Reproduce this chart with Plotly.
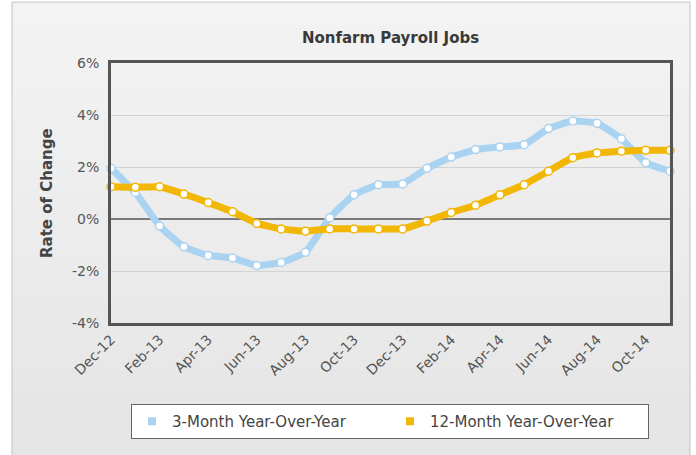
import plotly.graph_objects as go

months = ["Dec-12", "Jan-13", "Feb-13", "Mar-13", "Apr-13", "May-13", "Jun-13", "Jul-13",
          "Aug-13", "Sep-13", "Oct-13", "Nov-13", "Dec-13", "Jan-14", "Feb-14", "Mar-14",
          "Apr-14", "May-14", "Jun-14", "Jul-14", "Aug-14", "Sep-14", "Oct-14", "Nov-14"]
three_month = [1.95, 1.02, -0.27, -1.07, -1.40, -1.50, -1.79, -1.67, -1.28, 0.05, 0.93, 1.32,
               1.35, 1.95, 2.38, 2.67, 2.77, 2.86, 3.48, 3.77, 3.68, 3.09, 2.16, 1.84]
twelve_month = [1.24, 1.22, 1.24, 0.96, 0.63, 0.28, -0.17, -0.38, -0.47, -0.38, -0.38, -0.38,
                -0.38, -0.08, 0.25, 0.53, 0.93, 1.32, 1.84, 2.36, 2.54, 2.61, 2.64, 2.64]
series_names = ["3-Month Year-Over-Year", "12-Month Year-Over-Year"]
y_ticks = [-4, -2, 0, 2, 4, 6]
x_ticks = months[::2]

BLUE = "#aad3f2"
ORANGE = "#f2b705"
FONT = "DejaVu Sans"

W, H = 696, 455
L, R, T, B = 111, 26, 63, 132
pw, ph = W - L - R, H - T - B


def px_x(p):
    return (p - L) / pw


def px_y(p):
    return (H - B - p) / ph


fig = go.Figure()
for vals, name, col in [(three_month, series_names[0], BLUE), (twelve_month, series_names[1], ORANGE)]:
    fig.add_trace(go.Scatter(
        x=months, y=vals, mode="lines+markers", name=name, showlegend=False,
        line=dict(color=col, width=7, shape="spline", smoothing=0.4),
        marker=dict(size=8, color="white", line=dict(color=col, width=1.5)),
        cliponaxis=False,
    ))
for name, col in [(series_names[0], BLUE), (series_names[1], ORANGE)]:
    fig.add_trace(go.Scatter(
        x=[None], y=[None], mode="markers", name=name,
        marker=dict(symbol="square", size=8, color=col),
    ))

shapes = []
# gradient panel background
nb = 20
y_top, y_bot = 2, 460
for i in range(nb):
    a = y_top + (y_bot - y_top) * i / nb
    b = y_top + (y_bot - y_top) * (i + 1) / nb
    t = i / (nb - 1)
    g = int(round(243 - t * 14))
    shapes.append(dict(type="rect", xref="paper", yref="paper", layer="below",
                       x0=px_x(12), x1=px_x(690), y0=px_y(b + 0.5), y1=px_y(a),
                       line=dict(width=0), fillcolor=f"rgb({g},{g},{g})"))
shapes.append(dict(type="rect", xref="paper", yref="paper", layer="below",
                   x0=px_x(12), x1=px_x(690), y0=px_y(460), y1=px_y(2),
                   line=dict(width=1, color="#c4c4c4"), fillcolor="rgba(0,0,0,0)"))

fig.update_layout(
    width=W, height=H,
    margin=dict(l=L, r=R, t=T, b=B, autoexpand=False),
    paper_bgcolor="white",
    plot_bgcolor="white",
    shapes=shapes,
    hovermode=False,
    title=dict(text="<b>Nonfarm Payroll Jobs</b>", x=0.5, xref="paper", xanchor="center",
               y=1 - 38 / H, yanchor="middle", font=dict(family=FONT, size=15, color="#3a3a3a")),
    font=dict(family=FONT, size=14, color="#555555"),
    xaxis=dict(
        type="category", categoryorder="array", categoryarray=months,
        range=[0, len(months) - 1], automargin=False,
        tickmode="array", tickvals=x_ticks, ticktext=x_ticks, tickangle=-45,
        showgrid=False, zeroline=False,
        showline=True, linecolor="#555555", linewidth=3, mirror=True,
        ticks="", tickfont=dict(family=FONT, size=14, color="#555555"),
    ),
    yaxis=dict(
        range=[-4, 6], tickmode="array", tickvals=y_ticks, automargin=False,
        ticktext=[f"{v}%" for v in y_ticks],
        showgrid=True, gridcolor="#d2d2d2", gridwidth=1,
        zeroline=True, zerolinecolor="#7a7a7a", zerolinewidth=2,
        showline=True, linecolor="#555555", linewidth=3, mirror=True,
        ticks="", ticklabelstandoff=6, tickfont=dict(family=FONT, size=14, color="#555555"),
    ),
    legend=dict(
        orientation="h", x=px_x(131), xanchor="left", y=px_y(404), yanchor="top",
        bgcolor="white", bordercolor="#666666", borderwidth=1,
        font=dict(family=FONT, size=15, color="#444444"),
        itemwidth=30, entrywidth=213, entrywidthmode="pixels",
    ),
    annotations=[dict(
        text="<b>Rate of Change</b>", xref="paper", yref="paper",
        x=px_x(47), y=px_y(193), xanchor="center", yanchor="middle",
        textangle=-90, showarrow=False, font=dict(family=FONT, size=15, color="#444444"),
    )],
)

fig.write_html("out.html", config={"displayModeBar": False},
               post_script="document.body.style.margin='0';")
